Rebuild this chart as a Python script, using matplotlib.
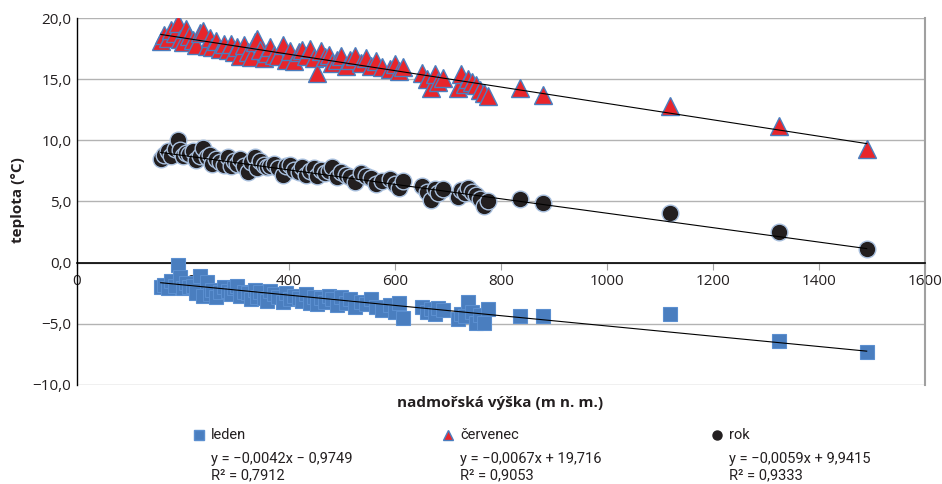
import matplotlib
matplotlib.use("Agg")
import matplotlib.pyplot as plt
from matplotlib.ticker import FuncFormatter
import numpy as np

# station altitudes (m) and temperatures (°C)
altitude = [158, 165, 172, 178, 185, 190, 195, 200, 205, 212, 218, 225, 232, 238, 245, 250,
            255, 262, 270, 278, 285, 290, 296, 302, 308, 315, 322, 328, 335, 340, 346, 352,
            358, 365, 372, 380, 388, 395, 402, 410, 418, 425, 432, 440, 448, 453, 460, 468,
            475, 482, 490, 498, 508, 516, 525, 535, 545, 555, 565, 575, 590, 600, 608, 615,
            650, 660, 668, 675, 682, 690, 718, 725, 732, 738, 745, 752, 760, 768, 775, 835,
            880, 1118, 1325, 1490]
cervenec = [18.1, 18.6, 18.4, 19.0, 18.8, 19.6, 18.3, 18.0, 19.1, 18.5, 18.2, 17.8, 18.8, 18.9, 17.7, 18.4,
            17.6, 18.1, 17.5, 17.9, 17.4, 17.9, 17.2, 17.6, 16.9, 17.8, 17.2, 16.8, 18.0, 18.3, 17.4, 16.7,
            17.1, 17.6, 17.0, 16.9, 17.8, 16.6, 17.3, 16.5, 17.2, 17.4, 16.9, 17.5, 16.7, 15.5, 17.3, 16.8,
            17.0, 16.3, 16.6, 16.9, 16.1, 16.6, 16.9, 16.3, 16.7, 16.1, 16.5, 16.0, 15.8, 16.2, 15.7, 16.0,
            15.5, 15.0, 14.3, 15.4, 14.8, 15.1, 14.3, 15.4, 14.6, 15.0, 14.8, 14.5, 14.1, 13.9, 13.6, 14.3,
            13.7, 12.8, 11.2, 9.3]
rok = [8.5, 8.8, 9.1, 8.7, 9.3, 10.0, 9.2, 8.7, 9.0, 8.9, 9.1, 8.4, 8.7, 9.4, 8.6, 8.8,
       8.1, 8.5, 8.2, 8.0, 8.6, 7.9, 8.3, 8.1, 8.5, 7.9, 7.4, 8.2, 8.6, 7.7, 8.3, 8.0,
       7.8, 7.9, 8.1, 7.7, 7.2, 7.9, 8.0, 7.6, 7.4, 7.8, 7.2, 7.5, 7.7, 7.1, 7.6, 7.3,
       7.5, 7.8, 7.0, 7.4, 7.2, 7.0, 6.6, 7.3, 7.1, 6.9, 6.4, 6.7, 6.8, 6.4, 6.1, 6.7,
       6.3, 5.8, 5.1, 6.0, 5.7, 6.0, 5.4, 5.9, 5.7, 6.1, 5.8, 5.5, 5.2, 4.6, 5.0, 5.2,
       4.9, 4.1, 2.5, 1.1]
leden = [-2.0, -1.8, -2.1, -1.5, -1.9, -0.2, -1.2, -2.1, -1.7, -2.0, -1.9, -2.5, -1.1, -2.7, -1.6, -2.6,
         -2.2, -2.8, -2.4, -2.0, -2.3, -2.6, -2.1, -1.9, -2.7, -2.4, -2.5, -3.0, -2.2, -2.8, -2.4, -2.9,
         -3.1, -2.3, -2.6, -2.8, -3.2, -2.5, -3.0, -2.7, -2.9, -3.1, -2.6, -3.3, -2.8, -3.4, -2.9, -3.2,
         -2.7, -3.0, -3.5, -2.8, -3.3, -3.0, -3.6, -3.2, -3.4, -3.0, -3.6, -3.9, -3.5, -4.0, -3.3, -4.5,
         -3.6, -4.0, -3.8, -4.2, -3.7, -3.9, -4.6, -4.2, -4.4, -3.2, -4.0, -4.9, -4.3, -4.9, -3.8, -4.4,
         -4.4, -4.2, -6.4, -7.3]

# regression lines (from the chart's legend)
series_names = ["leden", "červenec", "rok"]
slopes = [-0.0042, -0.0067, -0.0059]
intercepts = [-0.9749, 19.716, 9.9415]
eq_texts = ["y = −0,0042x − 0,9749", "y = −0,0067x + 19,716", "y = −0,0059x + 9,9415"]
r2_texts = ["R² = 0,7912", "R² = 0,9053", "R² = 0,9333"]

x_ticks = [0, 200, 400, 600, 800, 1000, 1200, 1400, 1600]
y_ticks = [-10, -5, 0, 5, 10, 15, 20]

fig = plt.figure(figsize=(9.42, 4.84), dpi=100)
ax = fig.add_axes([77/942, 1-385/484, (925-77)/942, (385-18)/484])

alt = np.array(altitude)
styles = [
    dict(marker="s", color="#4a7ebf", mec="#5b8fd0", ms=10, mew=0.8),
    dict(marker="^", color="#e8252b", mec="#4a7ebf", ms=13, mew=1.0),
    dict(marker="o", color="#231f20", mec="#a9c0de", ms=12, mew=1.0),
]
data = [leden, cervenec, rok]
for vals, st in zip(data, styles):
    ax.plot(alt, vals, linestyle="none", marker=st["marker"], markerfacecolor=st["color"],
            markeredgecolor=st["mec"], markersize=st["ms"], markeredgewidth=st["mew"], zorder=3)

xs = np.array([min(altitude), max(altitude)])
for s, b in zip(slopes, intercepts):
    ax.plot(xs, s*xs + b, color="black", lw=0.8, zorder=4)

ax.set_xlim(0, 1600)
ax.set_ylim(-10, 20)
ax.set_yticks(y_ticks)
ax.set_xticks(x_ticks)
ax.yaxis.set_major_formatter(FuncFormatter(lambda v, p: ("%.1f" % v).replace(".", ",").replace("-", "−")))
ax.xaxis.set_major_formatter(FuncFormatter(lambda v, p: "%d" % v))
ax.grid(axis="y", color="#b3b3b3", lw=1.0, zorder=0)
ax.set_axisbelow(True)

ax.spines["bottom"].set_position(("data", 0))
ax.spines["bottom"].set_color("black")
ax.spines["bottom"].set_linewidth(1.2)
ax.spines["left"].set_color("black")
ax.spines["left"].set_linewidth(1.0)
ax.spines["top"].set_visible(False)
ax.spines["right"].set_color("#a0a0a0")
ax.spines["right"].set_linewidth(1.5)

ax.tick_params(axis="x", direction="out", length=5, color="#a0a0a0", labelsize=11,
               labelcolor="#231f20", pad=3)
ax.tick_params(axis="y", length=0, labelsize=11, labelcolor="#231f20", pad=4)
for lab in ax.get_xticklabels() + ax.get_yticklabels():
    lab.set_family(["Open Sans", "DejaVu Sans"])

fig.text(18/942, 1-200/484, "teplota (°C)", rotation=90, ha="center", va="center",
         fontsize=11, fontweight="bold", color="#231f20", family=["Open Sans", "DejaVu Sans"])
fig.text(500/942, 1-403/484, "nadmořská výška (m n. m.)", ha="center", va="center",
         fontsize=11, fontweight="bold", color="#231f20", family=["Open Sans", "DejaVu Sans"])

# legend
leg_x = [199, 448, 717]
leg_markers = [dict(marker="s", color="#4a7ebf", mec="#5b8fd0", ms=7),
               dict(marker="^", color="#e8252b", mec="#4a7ebf", ms=7.5),
               dict(marker="o", color="#231f20", mec="#231f20", ms=6.5)]
fam = ["Roboto", "DejaVu Sans"]
for i in range(3):
    x0 = leg_x[i]
    fig.lines.append(plt.Line2D([x0/942], [1-435/484], transform=fig.transFigure, linestyle="none",
                                marker=leg_markers[i]["marker"], markerfacecolor=leg_markers[i]["color"],
                                markeredgecolor=leg_markers[i]["mec"], markersize=leg_markers[i]["ms"]))
    fig.text((x0+12)/942, 1-435/484, series_names[i], ha="left", va="center", fontsize=10.5,
             color="#231f20", family=fam)
    fig.text((x0+12)/942, 1-459/484, eq_texts[i], ha="left", va="center", fontsize=10.5,
             color="#231f20", family=fam)
    fig.text((x0+12)/942, 1-475/484, r2_texts[i], ha="left", va="center", fontsize=10.5,
             color="#231f20", family=fam)

fig.savefig("out.png", dpi=100, facecolor="white")
